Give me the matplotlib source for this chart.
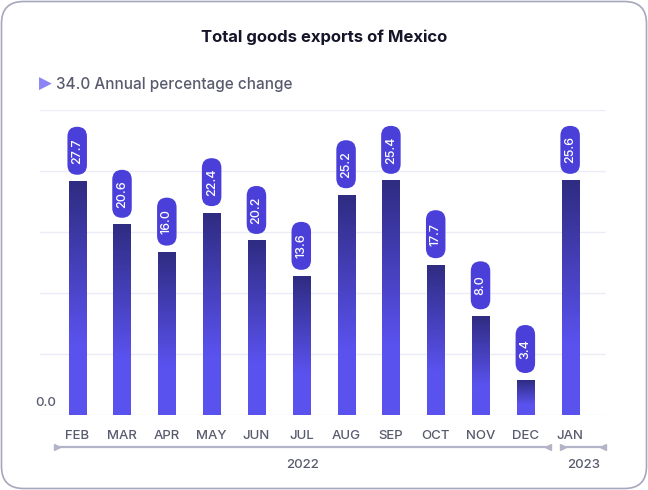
"""Total goods exports of Mexico: gradient bars with pill labels."""

import numpy as np
import matplotlib
matplotlib.use('Agg')
import matplotlib.pyplot as plt
import matplotlib.transforms as mtransforms
from matplotlib.colors import LinearSegmentedColormap
from matplotlib.patches import FancyBboxPatch

months = ['FEB', 'MAR', 'APR', 'MAY', 'JUN', 'JUL',
          'AUG', 'SEP', 'OCT', 'NOV', 'DEC', 'JAN']
# bar lengths
bar_heights = [26.0, 21.2, 18.1, 22.5, 19.4, 15.4,
               24.5, 26.1, 16.7, 11.0, 3.9, 26.1]
# annual percentage change shown in the pills
pct_change = [27.7, 20.6, 16.0, 22.4, 20.2, 13.6,
              25.2, 25.4, 17.7, 8.0, 3.4, 25.6]
y_max = 34.0
year_groups = [('2022', 0, 10), ('2023', 11, 11)]

TEXT = '#585a6e'
GRID = '#ececf8'
PILL = '#4a40d9'
DPI = 100
W, H = 648, 490

plt.rcParams['font.family'] = ['Inter', 'DejaVu Sans']

fig = plt.figure(figsize=(W / DPI, H / DPI), dpi=DPI)


def fx(px):
    return px / W


def fy(py):
    return 1 - py / H


# axes box in pixels: left 40, right 606, top 110, bottom 415
ax = fig.add_axes([fx(40), fy(415), fx(606) - fx(40), fy(110) - fy(415)])
n = len(months)
x = np.arange(n)
for s in ax.spines.values():
    s.set_visible(False)
ax.set_xticks([])
ax.set_yticks([])
for g in np.linspace(0, y_max, 6):
    ax.axhline(g, color=GRID, lw=1, zorder=0)

cmap = LinearSegmentedColormap.from_list(
    'bar', [(0.0, '#5a52ee'), (0.3, '#5a52ee'), (1.0, '#2f2c82')])
grad = np.linspace(0, 1, 256).reshape(-1, 1)
bw = 0.19
for xi, h in zip(x, bar_heights):
    ax.imshow(grad, extent=[xi - bw, xi + bw, 0, h], origin='lower',
              cmap=cmap, aspect='auto', zorder=2, interpolation='bilinear')

# pills above the bars, drawn in pixel units
pw, ph, gap = 19.5, 48, 7
r = pw / 2
for xi, h, v in zip(x, bar_heights, pct_change):
    tr = mtransforms.ScaledTranslation(xi, h, ax.transData)
    t = mtransforms.IdentityTransform() + tr
    pill = FancyBboxPatch((0, gap + r), 0, ph - 2 * r,
                          boxstyle=f'round,pad={r}', transform=t,
                          facecolor=PILL, edgecolor='none', zorder=3,
                          clip_on=False)
    ax.add_patch(pill)
    off = mtransforms.offset_copy(ax.transData, fig=fig,
                                  y=(gap + ph / 2) * 72 / DPI, units='points')
    ax.text(xi, h, f'{v:.1f}', transform=off, rotation=90, ha='center',
            va='center', color='white', fontsize=9, fontweight='medium',
            zorder=4)
ax.set_xlim(-0.83, 11.8)
ax.set_ylim(0, y_max)

# month labels
blend = mtransforms.blended_transform_factory(ax.transData, fig.transFigure)
for xi, m in zip(x, months):
    ax.text(xi, fy(436), m, transform=blend, ha='center', va='center',
            fontsize=9.5, color=TEXT, fontweight='medium')

# year brackets
for label, i0, i1 in year_groups:
    left, right = i0 - 0.45, i1 + 0.5
    if i0 == i1:
        left, right = i0 - 0.15, i0 + 0.73
    ax.plot([left, right], [fy(447)] * 2, transform=blend, color='#b4b4c8',
            lw=1.6, clip_on=False, solid_capstyle='butt')
    ax.plot([left], [fy(447)], transform=blend, marker='>', ms=4.5,
            color='#b4b4c8', clip_on=False)
    ax.plot([right], [fy(447)], transform=blend, marker='<', ms=4.5,
            color='#b4b4c8', clip_on=False)
    ax.text((left + right) / 2, fy(465), label, transform=blend,
            ha='center', va='center', fontsize=9.5, color=TEXT,
            fontweight='medium')

fig.text(fx(35), fy(403), '0.0', ha='left', va='center', fontsize=9.5,
         color=TEXT, fontweight='medium')

fig.text(fx(324), fy(37), 'Total goods exports of Mexico', ha='center',
         va='center', fontsize=12, fontweight='bold', color='#15152a')
fig.text(fx(39), fy(84), '\u25B6', ha='left', va='center', fontsize=12,
         color='#8a84f6', family=['DejaVu Sans'])
fig.text(fx(56), fy(84), '34.0 Annual percentage change', ha='left',
         va='center', fontsize=11, color=TEXT, fontweight='medium')

# rounded card border
border = FancyBboxPatch((1.5 + 22, 1.5 + 22), W - 3 - 44, H - 3 - 44,
                        boxstyle='round,pad=22',
                        transform=mtransforms.IdentityTransform(),
                        facecolor='none', edgecolor='#a7a7bd', lw=1.2)
fig.patches.append(border)

fig.savefig('out.png', dpi=DPI)
